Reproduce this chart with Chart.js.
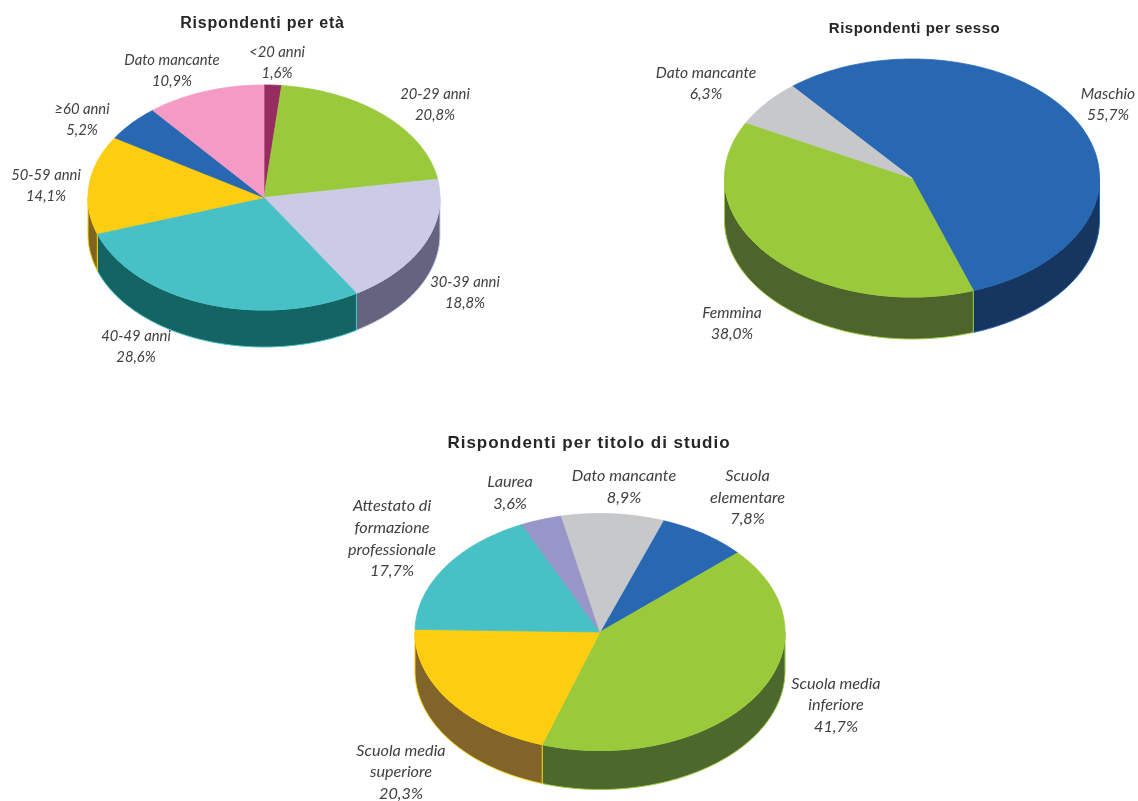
<!DOCTYPE html>
<html>
<head>
<meta charset="utf-8">
<script src="https://cdn.jsdelivr.net/npm/chart.js@4.4.1/dist/chart.umd.min.js"></script>
<style>
html, body { margin: 0; padding: 0; background: #fff; overflow: hidden; width: 1138px; height: 801px; }
.box { position: absolute; }
</style>
</head>
<body>
<div class="box" style="left:0px;top:0px;width:528px;height:395px"><canvas id="eta"></canvas></div>
<div class="box" style="left:612px;top:-22px;width:600px;height:400px"><canvas id="sesso"></canvas></div>
<div class="box" style="left:300px;top:420px;width:600px;height:424px"><canvas id="studio"></canvas></div>
<script>
// data
var etaLabels = ['<20 anni', '20-29 anni', '30-39 anni', '40-49 anni', '50-59 anni', '\u226560 anni', 'Dato mancante'];
var etaValues = [1.6, 20.8, 18.8, 28.6, 14.1, 5.2, 10.9];

var sessoLabels = ['Maschio', 'Femmina', 'Dato mancante'];
var sessoValues = [55.7, 38.0, 6.3];

var studioLabels = [['Scuola', 'elementare'], ['Scuola media', 'inferiore'], ['Scuola media', 'superiore'],
	['Attestato di', 'formazione', 'professionale'], 'Laurea', 'Dato mancante'];
var studioValues = [7.8, 41.7, 20.3, 17.7, 3.6, 8.9];

// colours (top face / side wall)
var etaColors = ['#962C60', '#9ACA3C', '#CCCBE6', '#47C1C5', '#FCCD10', '#2867B2', '#F49AC4'];
var etaSides  = ['#4B1630', '#4D6A2D', '#656480', '#136463', '#7F6620', '#17365F', '#7A4D62'];
var sessoColors = ['#2867B2', '#9ACA3C', '#C7C8CA'];
var sessoSides  = ['#17365F', '#4D652D', '#636465'];
var studioColors = ['#2867B2', '#9ACA3C', '#FCCD10', '#47C1C5', '#9896C8', '#C7C8CA'];
var studioSides  = ['#17365F', '#4D682C', '#80642A', '#136463', '#4C4B64', '#636465'];

// label centres, relative to the pie centre
var etaLabelPos = [[13, -135], [171, -93], [201, 95], [-128, 149.5], [-218, -11.5], [-182, -78], [-92, -127]];
var sessoLabelPos = [[196, -73.5], [-180, 145.5], [-206, -94.5]];
var studioLabelPos = [[147.5, -134.5], [236, 73], [-199, 140], [-208, -93.5], [-90, -139], [24, -145]];

function pct(v){
	return v.toFixed(1).replace('.', ',') + '%';
}

function ellipsePts(p, ry, a, b){
	var pts = [];
	var n = Math.max(2, Math.ceil((b - a) / 0.015));
	for(var j = 0; j <= n; j++){
		var t = a + (b - a) * j / n;
		pts.push([p.x + p.outerRadius * Math.cos(t), p.y + ry * Math.sin(t)]);
	}
	return pts;
}

// draws the pie as a tilted disc with a side wall
var pie3d = {
	id: 'pie3d',
	beforeDatasetsDraw: function(chart, args, opts){
		var ctx = chart.ctx;
		var arcs = chart.getDatasetMeta(0).data;
		var colors = chart.data.datasets[0].backgroundColor;
		var depth = opts.depth;
		ctx.save();
		ctx.lineJoin = 'round';

		//side walls, only the front half of the disc
		for(var i = 0; i < arcs.length; i++){
			var p = arcs[i].getProps(['x', 'y', 'startAngle', 'endAngle', 'outerRadius'], true);
			var ry = p.outerRadius * opts.ratio;
			for(var o = -2; o <= 2; o++){
				var off = o * 2 * Math.PI;
				var a = Math.max(p.startAngle, off), b = Math.min(p.endAngle, off + Math.PI);
				if(b <= a) continue;
				var pts = ellipsePts(p, ry, a, b);
				ctx.beginPath();
				for(var j = 0; j < pts.length; j++){
					if(j == 0) ctx.moveTo(pts[j][0], pts[j][1]);
					else ctx.lineTo(pts[j][0], pts[j][1]);
				}
				for(var j = pts.length - 1; j >= 0; j--){
					ctx.lineTo(pts[j][0], pts[j][1] + depth);
				}
				ctx.closePath();
				ctx.fillStyle = opts.sides[i];
				ctx.fill();
				ctx.strokeStyle = colors[i];
				ctx.lineWidth = 1;
				ctx.stroke();
			}
		}

		//top face
		for(var i = 0; i < arcs.length; i++){
			var p = arcs[i].getProps(['x', 'y', 'startAngle', 'endAngle', 'outerRadius'], true);
			var ry = p.outerRadius * opts.ratio;
			var pts = ellipsePts(p, ry, p.startAngle, p.endAngle);
			ctx.beginPath();
			ctx.moveTo(p.x, p.y);
			for(var j = 0; j < pts.length; j++){
				ctx.lineTo(pts[j][0], pts[j][1]);
			}
			ctx.closePath();
			ctx.fillStyle = colors[i];
			ctx.fill();
			ctx.strokeStyle = colors[i];
			ctx.lineWidth = 0.8;
			ctx.stroke();
		}
		ctx.restore();
		return false;
	},
	afterDraw: function(chart, args, opts){
		var ctx = chart.ctx;
		var arc = chart.getDatasetMeta(0).data[0];
		var cx = arc.x, cy = arc.y;
		ctx.save();
		//title
		ctx.font = 'bold ' + opts.titleSize + 'px "Liberation Sans", Arial, sans-serif';
		ctx.letterSpacing = opts.titleSpacing + 'px';
		ctx.fillStyle = '#262626';
		ctx.textAlign = 'center';
		ctx.textBaseline = 'middle';
		ctx.fillText(opts.title, cx + opts.titlePos[0], cy + opts.titlePos[1]);

		//labels
		ctx.letterSpacing = '0px';
		ctx.font = 'italic ' + opts.labelSize + 'px Lato, "Open Sans", sans-serif';
		ctx.fillStyle = '#404040';
		var labels = chart.data.labels;
		var values = chart.data.datasets[0].data;
		var lh = opts.lineHeight;
		for(var i = 0; i < labels.length; i++){
			var lines = [].concat(labels[i]);
			lines.push(pct(values[i]));
			var x = cx + opts.labelPos[i][0];
			var y0 = cy + opts.labelPos[i][1] - (lines.length - 1) * lh / 2;
			for(var j = 0; j < lines.length; j++){
				ctx.fillText(lines[j], x, y0 + j * lh);
			}
		}
		ctx.restore();
	}
};

function makePie(id, labels, values, colors, radius, rotation, p3d){
	return new Chart(document.getElementById(id), {
		type: 'pie',
		data: {
			labels: labels,
			datasets: [{
				data: values,
				backgroundColor: colors,
				borderWidth: 0,
				radius: radius
			}]
		},
		options: {
			responsive: true,
			maintainAspectRatio: false,
			animation: false,
			events: [],
			rotation: rotation,
			layout: { padding: 0 },
			plugins: {
				legend: { display: false },
				tooltip: { enabled: false },
				pie3d: p3d
			}
		},
		plugins: [pie3d]
	});
}

makePie('eta', etaLabels, etaValues, etaColors, 176, 0, {
	ratio: 112.5 / 176, depth: 37, sides: etaSides, labelPos: etaLabelPos,
	labelSize: 14.8, lineHeight: 21,
	title: 'Rispondenti per et\u00e0', titleSize: 16, titleSpacing: 0.8, titlePos: [-1.5, -173.5]
});

makePie('sesso', sessoLabels, sessoValues, sessoColors, 187.5, -39.6, {
	ratio: 119 / 187.5, depth: 42, sides: sessoSides, labelPos: sessoLabelPos,
	labelSize: 15.6, lineHeight: 21,
	title: 'Rispondenti per sesso', titleSize: 15, titleSpacing: 0.5, titlePos: [2.5, -149.3]
});

makePie('studio', studioLabels, studioValues, studioColors, 185, 20, {
	ratio: 118.5 / 185, depth: 39, sides: studioSides, labelPos: studioLabelPos,
	labelSize: 16.2, lineHeight: 21.7,
	title: 'Rispondenti per titolo di studio', titleSize: 17, titleSpacing: 1, titlePos: [-11, -189]
});
</script>
</body>
</html>
